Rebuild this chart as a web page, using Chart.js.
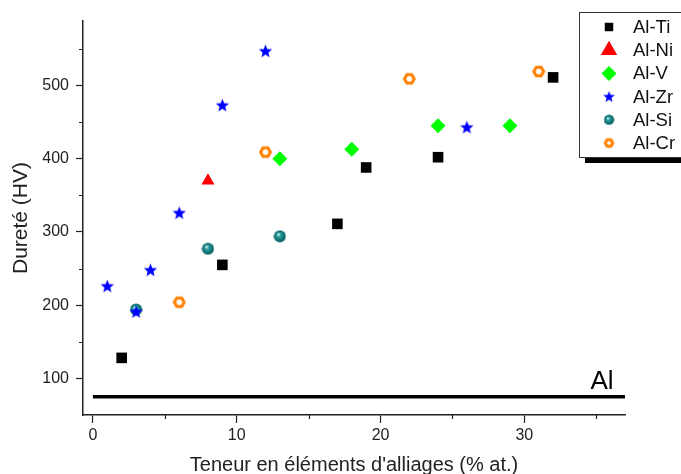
<!DOCTYPE html>
<html>
<head>
<meta charset="utf-8">
<script src="https://cdn.jsdelivr.net/npm/chart.js@4.4.1/dist/chart.umd.min.js"></script>
<style>
  html, body { margin: 0; padding: 0; background: #fff; }
  #wrap { width: 681px; height: 474px; }
</style>
</head>
<body>
<div id="wrap"><canvas id="myChart" width="681" height="474"></canvas></div>
<script>
// data (x = % at., y = HV)
const seriesNames = ["Al-Ti", "Al-Ni", "Al-V", "Al-Zr", "Al-Si", "Al-Cr"];
const tiX = [2, 9, 17, 19, 24, 32];
const tiY = [128, 255, 311, 388, 402, 511];
const niX = [8];
const niY = [370];
const vX = [13, 18, 24, 29];
const vY = [400, 413, 445, 445];
const zrX = [1, 3, 4, 6, 9, 12, 26];
const zrY = [226, 191, 248, 326, 473, 547, 443];
const siX = [3, 8, 13];
const siY = [194, 277, 294];
const crX = [6, 12, 22, 31];
const crY = [204, 409, 509, 519];
const alX = [0, 37];
const alY = [75, 75];
const xTickLabels = [0, 10, 20, 30];
const xMinorTicks = [5, 15, 25, 35];
const yTickLabels = [100, 200, 300, 400, 500];
const yMinorTicks = [150, 250, 350, 450, 550];

const font = "'Liberation Sans', Arial, sans-serif";

function pts(xs, ys) {
    return xs.map((x, i) => ({x: x, y: ys[i]}));
}

// marker pictures
function makeStar() {
    const c = document.createElement('canvas');
    c.width = 15; c.height = 15;
    const g = c.getContext('2d');
    g.beginPath();
    for (let i = 0; i < 10; i++) {
        const r = i % 2 === 0 ? 7 : 3;
        const a = -Math.PI / 2 + i * Math.PI / 5;
        const px = 7.5 + r * Math.cos(a), py = 8 + r * Math.sin(a);
        if (i === 0) g.moveTo(px, py); else g.lineTo(px, py);
    }
    g.closePath();
    g.fillStyle = '#0000ff';
    g.fill();
    return c;
}

function makeSphere() {
    const c = document.createElement('canvas');
    c.width = 13; c.height = 13;
    const g = c.getContext('2d');
    const grad = g.createRadialGradient(5, 4.5, 0.4, 6.5, 6.5, 6.2);
    grad.addColorStop(0, '#d0f4f4');
    grad.addColorStop(0.3, '#2a9a9a');
    grad.addColorStop(1, '#005858');
    g.beginPath();
    g.arc(6.5, 6.5, 6, 0, Math.PI * 2);
    g.fillStyle = grad;
    g.fill();
    return c;
}

function makeHexagon(r, w) {
    const size = Math.ceil(2 * r + w + 2);
    const c = document.createElement('canvas');
    c.width = size; c.height = size;
    const g = c.getContext('2d');
    g.beginPath();
    for (let i = 0; i < 6; i++) {
        const a = i * Math.PI / 3;
        const px = size / 2 + r * Math.cos(a), py = size / 2 + r * Math.sin(a);
        if (i === 0) g.moveTo(px, py); else g.lineTo(px, py);
    }
    g.closePath();
    g.strokeStyle = '#ff8000';
    g.lineWidth = w;
    g.stroke();
    return c;
}

const starImg = makeStar();
const sphereImg = makeSphere();
const hexImg = makeHexagon(4.9, 3);
const hexLegendImg = makeHexagon(3.8, 3);

const datasets = [
    {label: seriesNames[0], data: pts(tiX, tiY), pointStyle: 'rect', pointRadius: 7.5,
     backgroundColor: '#000', borderColor: '#000', borderWidth: 0},
    {label: seriesNames[1], data: pts(niX, niY), pointStyle: 'triangle', pointRadius: 7.5,
     backgroundColor: '#ff0000', borderColor: '#ff0000', borderWidth: 0},
    {label: seriesNames[2], data: pts(vX, vY), pointStyle: 'rectRot', pointRadius: 7.5,
     backgroundColor: '#00ff00', borderColor: '#00ff00', borderWidth: 0},
    {label: seriesNames[3], data: pts(zrX, zrY), pointStyle: starImg, pointRadius: 7,
     backgroundColor: '#0000ff', borderColor: '#0000ff'},
    {label: seriesNames[4], data: pts(siX, siY), pointStyle: sphereImg, pointRadius: 6,
     backgroundColor: '#008080', borderColor: '#008080'},
    {label: seriesNames[5], data: pts(crX, crY), pointStyle: hexImg, pointRadius: 6.5,
     backgroundColor: '#ff8000', borderColor: '#ff8000'},
    {type: 'line', label: 'Al', data: pts(alX, alY), borderColor: '#000', borderWidth: 3.5,
     pointRadius: 0, showLine: true, order: 10}
];

// legend marker sizes differ a bit from the plot ones
const legendRadius = [6, 9.5, 7.5, 6.5, 5.5, 0];

// minor ticks, box legend with a shadow, and the "Al" label
const extras = {
    id: 'extras',
    afterDraw(chart) {
        const ctx = chart.ctx;
        const xs = chart.scales.x, ys = chart.scales.y;
        ctx.save();

        ctx.strokeStyle = '#222';
        ctx.lineWidth = 1.2;
        ctx.beginPath();
        xMinorTicks.forEach(v => {
            const px = Math.round(xs.getPixelForValue(v)) + 0.5;
            ctx.moveTo(px, ys.bottom);
            ctx.lineTo(px, ys.bottom + 4);
        });
        yMinorTicks.forEach(v => {
            const py = Math.round(ys.getPixelForValue(v)) + 0.5;
            ctx.moveTo(xs.left, py);
            ctx.lineTo(xs.left - 4, py);
        });
        ctx.stroke();

        ctx.font = '26px ' + font;
        ctx.fillStyle = '#000';
        ctx.textAlign = 'right';
        ctx.textBaseline = 'alphabetic';
        ctx.fillText('Al', xs.getPixelForValue(36.2), ys.getPixelForValue(86));

        // shadow then box
        ctx.fillStyle = '#000';
        ctx.fillRect(585, 158, 100, 5);
        ctx.fillStyle = '#fff';
        ctx.fillRect(579.5, 12.5, 110, 145);
        ctx.strokeStyle = '#333';
        ctx.lineWidth = 1;
        ctx.strokeRect(579.5, 12.5, 110, 145);

        ctx.font = '18.5px ' + font;
        ctx.textAlign = 'left';
        ctx.textBaseline = 'middle';
        for (let i = 0; i < seriesNames.length; i++) {
            const ds = chart.data.datasets[i];
            const y = 27 + i * 23.2;
            const r = legendRadius[i];
            if (typeof ds.pointStyle === 'string') {
                ctx.fillStyle = ds.backgroundColor;
                ctx.strokeStyle = ds.borderColor;
                Chart.helpers.drawPoint(ctx, {pointStyle: ds.pointStyle, radius: r, borderWidth: 0, rotation: 0}, 609, y);
            } else {
                const img = ds.pointStyle === hexImg ? hexLegendImg : ds.pointStyle;
                const k = r > 0 ? (2 * r) / img.width : 1;
                ctx.drawImage(img, 609 - img.width * k / 2, y - img.height * k / 2, img.width * k, img.height * k);
            }
            ctx.fillStyle = '#111';
            ctx.fillText(seriesNames[i], 633, y + 1);
        }
        ctx.restore();
    }
};

const ctx = document.getElementById('myChart').getContext('2d');
new Chart(ctx, {
    type: 'scatter',
    data: {datasets: datasets},
    plugins: [extras],
    options: {
        responsive: false,
        animation: false,
        layout: {padding: {top: 21, right: 56, left: 0, bottom: 0}},
        plugins: {
            legend: {display: false},
            tooltip: {enabled: false}
        },
        scales: {
            x: {
                type: 'linear',
                min: -0.69,
                max: 37,
                afterFit: (s) => { s.height = 59; },
                border: {color: '#222', width: 1.5},
                grid: {display: true, drawOnChartArea: false, tickLength: 8, tickColor: '#222', tickWidth: 1.2},
                ticks: {
                    stepSize: 10,
                    includeBounds: false,
                    autoSkip: false,
                    maxRotation: 0,
                    padding: 3,
                    color: '#222',
                    font: {family: font, size: 16},
                    callback: (v) => xTickLabels.includes(v) ? String(v) : ''
                },
                title: {
                    display: true,
                    text: "Teneur en éléments d'alliages (% at.)",
                    color: '#222',
                    font: {family: font, size: 20, lineHeight: 1},
                    padding: {top: 0, bottom: -1}
                }
            },
            y: {
                type: 'linear',
                min: 50,
                max: 588,
                afterFit: (s) => { s.width = 83; },
                border: {color: '#222', width: 1.5},
                grid: {display: true, drawOnChartArea: false, tickLength: 7, tickColor: '#222', tickWidth: 1.2},
                ticks: {
                    stepSize: 100,
                    includeBounds: false,
                    autoSkip: false,
                    padding: 7,
                    color: '#222',
                    font: {family: font, size: 16},
                    callback: (v) => yTickLabels.includes(v) ? String(v) : ''
                },
                title: {
                    display: true,
                    text: 'Dureté (HV)',
                    color: '#222',
                    font: {family: font, size: 21, lineHeight: 1},
                    padding: {top: 11, bottom: 0}
                }
            }
        }
    }
});
</script>
</body>
</html>
